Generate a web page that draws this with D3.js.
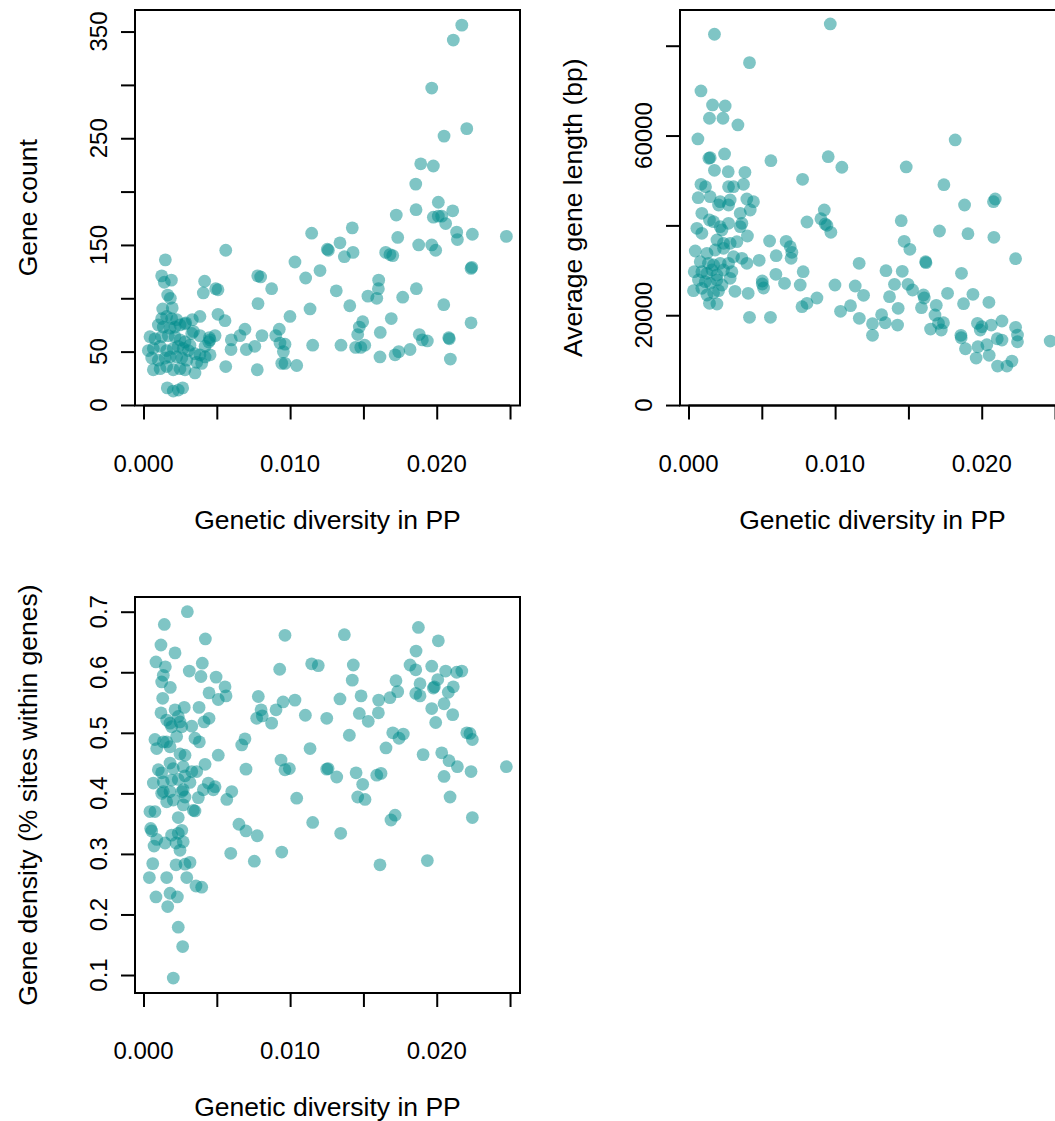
<!DOCTYPE html>
<html><head><meta charset="utf-8">
<script src="https://cdn.jsdelivr.net/npm/d3@7"></script>
<style>
body{margin:0;background:#fff}
text{font-family:"Liberation Sans",Arial,Helvetica,sans-serif;fill:#000}
</style>
</head><body>
<svg id="c" width="1055" height="1121" xmlns="http://www.w3.org/2000/svg"></svg>
<script>
// ---------- data ----------
const divCount = [0.02171,0.02113,0.01966,0.02205,0.02050,0.01891,0.01977,0.01857,0.02011,0.01859,0.01724,0.01977,0.02011,0.02034,0.02109,0.02061,0.01424,0.02136,0.02243,0.02475,0.01734,0.02141,0.01340,0.01877,0.01966,0.01993,0.01254,0.01261,0.01429,0.01652,0.01681,0.01700,0.01370,0.01204,0.02239,0.02234,0.01604,0.01602,0.01315,0.01861,0.01531,0.01591,0.01768,0.01407,0.02048,0.01495,0.01472,0.01690,0.02234,0.01461,0.01615,0.01881,0.01902,0.01936,0.02082,0.02086,0.01347,0.01447,0.01482,0.01509,0.01613,0.01716,0.01741,0.01818,0.02093,0.01147,0.00561,0.00149,0.01033,0.00124,0.00190,0.00142,0.00779,0.00799,0.01106,0.00417,0.00874,0.00492,0.00508,0.00408,0.00165,0.00183,0.00781,0.01136,0.00131,0.00196,0.00508,0.00999,0.00556,0.00385,0.00333,0.00288,0.00692,0.00658,0.00926,0.00808,0.00902,0.00599,0.00931,0.00965,0.00759,0.00701,0.00597,0.00954,0.01154,0.00488,0.00449,0.00445,0.00385,0.00943,0.00965,0.01045,0.00561,0.00776,0.00162,0.00203,0.00237,0.00267,
0.00124,0.00158,0.00192,0.00226,0.00101,0.00135,0.00181,0.00215,0.00249,0.00283,0.00044,0.00078,0.00124,0.00169,0.00215,0.00249,0.00283,0.00329,0.00454,0.00033,0.00067,0.00113,0.00158,0.00203,0.00237,0.00271,0.00306,0.00351,0.00385,0.00420,0.00454,0.00056,0.00101,0.00147,0.00181,0.00226,0.00261,0.00295,0.00363,0.00397,0.00067,0.00113,0.00158,0.00203,0.00249,0.00283,0.00351,0.00317,0.00420,0.00340];
const geneCount = [356,342,297,259,252,226,224,207,190,183,178,176,177,177,182,170,166,162,160,158,157,155,152,150,150,145,146,145,143,143,141,140,139,126,129,128,117,109,107,109,102,100,101,93,94,78,73,81,77,66,68,66,61,60,63,62,56,54,54,56,45,47,50,52,43,161,145,136,134,121,117,115,121,120,119,116,109,109,108,105,103,100,95,90,90,91,85,83,79,83,80,77,71,65,71,65,65,61,58,57,55,52,52,50,56,65,63,59,65,39,39,37,36,33,16,13,14,16,
81,83,81,80,75,73,72,73,75,76,64,62,64,65,64,61,59,67,61,51,53,55,51,53,55,53,51,48,47,45,47,44,42,44,45,45,44,42,40,39,33,34,36,33,34,33,30,56,55,69];

const divLength = [0.00967,0.00177,0.00416,0.00085,0.00164,0.00250,0.00143,0.00235,0.00337,0.00064,0.00246,0.00139,0.00148,0.00562,0.00953,0.01046,0.00177,0.00271,0.00385,0.00778,0.00085,0.00116,0.00375,0.00273,0.00307,0.00066,0.00148,0.00216,0.00284,0.00398,0.00443,0.01819,0.01485,0.01742,0.02092,0.02080,0.01883,0.01451,0.01712,0.01906,0.02083,0.01471,0.01510,0.02231,0.01164,0.01617,0.01620,0.01347,0.01458,0.01862,0.01405,0.01497,0.01528,0.01767,0.01603,0.01608,0.01940,0.01194,0.01371,0.01876,0.02049,0.01690,0.01430,0.01589,0.01681,0.01317,0.01165,0.01342,0.01255,0.01426,0.01705,0.01739,0.01651,0.01724,0.01971,0.02001,0.01990,0.02065,0.02138,0.02231,0.02244,0.02244,0.01255,0.01858,0.01860,0.01889,0.01974,0.02035,0.02106,0.02138,0.01962,0.02051,0.02108,0.02172,0.02206,0.02467,0.00808,0.00926,0.00903,0.00932,0.00944,0.00971,0.00553,0.00666,0.00694,0.00705,0.00700,0.00598,0.00482,0.00402,0.00782,0.00596,0.00503,0.00503,0.00512,0.00655,0.00762,0.00999,0.00876,0.00808,0.00774,0.01037,0.01105,0.01137,0.00416,0.00559,0.00407,0.00317,
0.00205,0.00273,0.00421,0.00353,0.00364,0.00353,0.00091,0.00143,0.00171,0.00057,0.00091,0.00216,0.00273,0.00228,0.00194,0.00239,0.00284,0.00330,0.00046,0.00126,0.00182,0.00239,0.00307,0.00364,0.00398,0.00080,0.00136,0.00171,0.00216,0.00273,0.00039,0.00091,0.00126,0.00160,0.00194,0.00239,0.00296,0.00284,0.00068,0.00114,0.00148,0.00194,0.00228,0.00034,0.00091,0.00126,0.00171,0.00205,0.00143,0.00194];
const geneLength = [84849,82555,76230,69928,66810,66587,63848,63848,62356,59238,55898,54940,55074,54406,55296,52936,52268,51956,51822,50263,49150,48615,49150,48615,48615,46166,46388,45275,45654,45876,45275,59016,53003,49061,45876,45275,44540,41044,38750,38149,37347,36456,34674,32581,31557,31913,31700,29909,29775,29330,26880,26880,25611,24876,24497,23829,24653,24430,24118,22560,22871,22203,21535,21669,20043,20110,19308,18328,18106,17816,18195,18328,16925,16703,18195,17437,16703,17816,18707,17304,15589,14097,15522,15522,14988,12538,12983,13429,14765,14476,10467,11068,8685,8685,9799,14253,40754,43427,41489,40309,40019,38460,36523,36456,35253,34006,32670,33249,32225,37636,29686,29107,27615,26947,26056,27103,26724,26724,23829,22649,21891,20867,22114,26501,19531,19531,24876,25321,
44540,44540,43427,42691,40465,39707,42691,41200,40821,39351,38238,39707,40465,38973,36746,36011,36011,36367,34296,33784,34519,34897,33026,32670,31557,31913,31557,31178,31557,31557,29686,29686,29330,30065,28951,30065,29686,28216,27838,27459,27103,27838,26724,25455,25989,24497,25009,25455,22649,22493];

const divDensity = [0.00299,0.00142,0.00422,0.00965,0.00119,0.00215,0.00085,0.00149,0.00401,0.00135,0.00124,0.00312,0.00392,0.00495,0.00183,0.00929,0.01147,0.01192,0.00556,0.00563,0.00447,0.00510,0.00131,0.00783,0.00952,0.01033,0.00802,0.00772,0.00810,0.00904,0.00874,0.01104,0.01250,0.00379,0.00278,0.00119,0.00215,0.00447,0.00413,0.00329,0.00158,0.00181,0.00237,0.00249,0.00192,0.00261,0.00078,0.00090,0.00135,0.00158,0.00181,0.00226,0.00351,0.00381,0.00510,0.00670,0.00692,0.00249,0.00283,0.00699,0.00938,0.00965,0.00995,0.01136,0.01250,0.00420,0.00363,0.00101,0.00124,0.00181,0.00203,0.00271,0.00329,0.00067,0.00135,0.00192,0.00237,0.00283,0.00317,0.00442,0.00488,0.00602,0.00408,0.00135,0.00271,0.01045,0.00124,0.00181,0.00261,0.00283,0.00374,0.00476,0.00568,0.00158,0.00203,0.00271,0.00340,0.00351,0.00044,0.00078,0.00237,0.00049,0.00056,0.00192,0.00261,0.00237,0.00090,0.00147,0.00222,0.00271,0.00249,0.00072,0.00651,0.00699,0.00776,0.00595,0.00756,0.00943,0.01154,0.00063,0.00222,0.00283,0.00317,0.00040,0.00158,0.00295,0.00358,0.00397,0.00181,0.00231,0.00085,0.00165,0.00237,0.00267,0.00203,
0.01875,0.01370,0.02011,0.01859,0.01431,0.01818,0.01857,0.01966,0.02061,0.02136,0.02171,0.01424,0.01722,0.01886,0.02007,0.01977,0.01984,0.02113,0.02079,0.01734,0.01681,0.01857,0.01886,0.01484,0.01604,0.01340,0.01966,0.02050,0.02109,0.01993,0.01472,0.01602,0.01533,0.01404,0.01700,0.01743,0.01772,0.02205,0.02227,0.02243,0.01654,0.01907,0.02034,0.02084,0.02141,0.02234,0.02475,0.02050,0.01259,0.01318,0.01450,0.01495,0.01591,0.01620,0.01461,0.01511,0.02091,0.01716,0.01688,0.02243,0.01345,0.01613,0.01936];
const geneDensity = [0.700,0.679,0.655,0.661,0.645,0.632,0.617,0.609,0.615,0.595,0.584,0.602,0.593,0.592,0.575,0.605,0.614,0.611,0.576,0.561,0.566,0.555,0.557,0.560,0.551,0.554,0.538,0.524,0.528,0.538,0.516,0.529,0.524,0.542,0.542,0.533,0.538,0.524,0.518,0.511,0.521,0.516,0.527,0.518,0.510,0.510,0.489,0.474,0.485,0.485,0.477,0.494,0.491,0.485,0.463,0.480,0.490,0.465,0.463,0.440,0.455,0.439,0.441,0.474,0.440,0.448,0.436,0.439,0.434,0.450,0.441,0.444,0.436,0.417,0.419,0.422,0.423,0.429,0.418,0.417,0.411,0.403,0.406,0.403,0.406,0.392,0.400,0.403,0.403,0.394,0.393,0.406,0.390,0.386,0.389,0.381,0.372,0.371,0.370,0.370,0.360,0.342,0.338,0.331,0.339,0.334,0.324,0.318,0.318,0.320,0.306,0.313,0.349,0.338,0.330,0.301,0.288,0.303,0.352,0.284,0.282,0.283,0.286,0.261,0.261,0.261,0.247,0.245,0.235,0.229,0.229,0.213,0.179,0.147,0.095,
0.674,0.662,0.652,0.635,0.612,0.612,0.604,0.610,0.602,0.600,0.602,0.587,0.586,0.581,0.588,0.574,0.576,0.576,0.567,0.568,0.558,0.565,0.561,0.561,0.554,0.556,0.540,0.548,0.530,0.517,0.532,0.533,0.519,0.496,0.500,0.491,0.498,0.500,0.499,0.489,0.475,0.464,0.467,0.454,0.444,0.436,0.444,0.428,0.441,0.427,0.434,0.415,0.430,0.433,0.394,0.390,0.394,0.364,0.356,0.360,0.334,0.282,0.289];

const xTicks = [0, 0.005, 0.010, 0.015, 0.020, 0.025];
const xTickLabels = ["0.000", "", "0.010", "", "0.020", ""];
const countTicks = [0, 50, 100, 150, 200, 250, 300, 350];
const countTickLabels = ["0", "50", "", "150", "", "250", "", "350"];
const lengthTicks = [0, 20000, 40000, 60000, 80000];
const lengthTickLabels = ["0", "20000", "", "60000", ""];
const densityTicks = [0.1, 0.2, 0.3, 0.4, 0.5, 0.6, 0.7];
const densityTickLabels = ["0.1", "0.2", "0.3", "0.4", "0.5", "0.6", "0.7"];
const xTitle = "Genetic diversity in PP";
const yTitles = ["Gene count", "Average gene length (bp)", "Gene density (% sites within genes)"];

// ---------- drawing ----------
const svg = d3.select("#c");
svg.append("rect").attr("width", 1055).attr("height", 1121).attr("fill", "#fff");

const FS = 24, FT = 26.5, TICK = 14, COL = "#008B8B";

const panels = [
  {x: divCount, y: geneCount, box: [135, 520, 10, 405.5], xd: [-0.00058, 0.02568], yd: [-0.5, 370.2],
   yt: countTicks, ytl: countTickLabels, title: yTitles[0]},
  {x: divLength, y: geneLength, box: [680, 1065, 10, 405.5], xd: [-0.00058, 0.02568], yd: [-100, 87950],
   yt: lengthTicks, ytl: lengthTickLabels, title: yTitles[1]},
  {x: divDensity, y: geneDensity, box: [135, 520, 597, 993], xd: [-0.00058, 0.02568], yd: [0.0703, 0.7243],
   yt: densityTicks, ytl: densityTickLabels, title: yTitles[2]}
];

panels.forEach((p, i) => {
  const [L, R, T, B] = p.box;
  const xs = d3.scaleLinear().domain(p.xd).range([L, R]);
  const ys = d3.scaleLinear().domain(p.yd).range([B, T]);
  const g = svg.append("g");

  const clipId = "clip" + i;
  svg.append("clipPath").attr("id", clipId).append("rect")
    .attr("x", L).attr("y", T).attr("width", R - L).attr("height", B - T);

  g.append("g").attr("clip-path", `url(#${clipId})`)
    .selectAll("circle").data(p.x.map((v, k) => [v, p.y[k]])).join("circle")
    .attr("cx", d => xs(d[0])).attr("cy", d => ys(d[1])).attr("r", 6.4)
    .attr("fill", COL).attr("fill-opacity", 0.5);

  // x axis
  const xa = g.append("g").attr("transform", `translate(0,${B})`)
    .call(d3.axisBottom(xs).tickValues(xTicks).tickSize(TICK).tickFormat(""));
  xa.select(".domain").remove();
  xa.selectAll("line").attr("stroke", "#000").attr("stroke-width", 2);
  g.append("line").attr("x1", xs(xTicks[0])).attr("x2", xs(xTicks[xTicks.length - 1]))
    .attr("y1", B).attr("y2", B).attr("stroke", "#000").attr("stroke-width", 2);
  g.selectAll(".xl").data(xTicks).join("text").attr("class", "xl")
    .attr("x", d => xs(d)).attr("y", B + 66).attr("text-anchor", "middle")
    .attr("font-size", FS).text((d, k) => xTickLabels[k]);
  g.append("text").attr("x", (L + R) / 2).attr("y", B + 123).attr("text-anchor", "middle")
    .attr("font-size", FT).text(xTitle);

  // y axis
  const ya = g.append("g").attr("transform", `translate(${L},0)`)
    .call(d3.axisLeft(ys).tickValues(p.yt).tickSize(TICK).tickFormat(""));
  ya.select(".domain").remove();
  ya.selectAll("line").attr("stroke", "#000").attr("stroke-width", 2);
  g.selectAll(".yl").data(p.yt).join("text").attr("class", "yl")
    .attr("transform", d => `translate(${L - 28},${ys(d)}) rotate(-90)`)
    .attr("text-anchor", "middle").attr("font-size", FS).text((d, k) => p.ytl[k]);
  g.append("text")
    .attr("transform", `translate(${L - 98},${(T + B) / 2}) rotate(-90)`)
    .attr("text-anchor", "middle").attr("font-size", FT).text(p.title);

  // box
  g.append("rect").attr("x", L).attr("y", T).attr("width", R - L).attr("height", B - T)
    .attr("fill", "none").attr("stroke", "#000").attr("stroke-width", 2);
});
</script>
</body></html>
